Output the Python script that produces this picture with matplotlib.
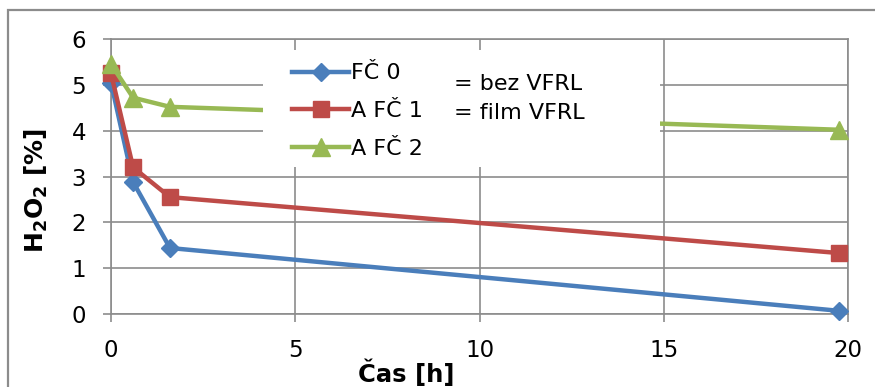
import numpy as np
import matplotlib
matplotlib.use("Agg")
import matplotlib.pyplot as plt
from matplotlib.patches import Rectangle

# values
time_h = [0, 0.6, 1.6, 19.75]
fc0 = [5.05, 2.88, 1.44, 0.07]
afc1 = [5.25, 3.2, 2.55, 1.33]
afc2 = [5.45, 4.72, 4.52, 4.02]

labels = ["FČ 0", "A FČ 1", "A FČ 2"]
colors = ["#4A7EBB", "#BE4B48", "#98B954"]
markers = ["D", "s", "^"]
msizes = [9.5, 12, 13]
notes = ["= bez VFRL", "= film VFRL"]

grid_col = "#8C8C8C"

plt.rcParams["font.family"] = ["DejaVu Sans"]
plt.rcParams["mathtext.fontset"] = "dejavusans"

fig = plt.figure(figsize=(8.75, 3.87), dpi=100)
ax = fig.add_axes([111 / 875, 1 - 314 / 387, 737 / 875, 275 / 387])

# outer chart-area border (runs off the right and bottom edges)
fig.patches.append(Rectangle((8 / 875, -0.1), 1.2, 1 - 10 / 387 + 0.1,
                             transform=fig.transFigure, fill=False,
                             edgecolor=grid_col, linewidth=1.6))

for ys, lab, c, m, ms in zip([fc0, afc1, afc2], labels, colors, markers, msizes):
    ax.plot(time_h, ys, color=c, lw=3.2, marker=m, ms=ms, label=lab,
            zorder=3, clip_on=False)

ax.set_xlim(0, 20)
ax.set_ylim(0, 6)
ax.set_xticks(np.arange(0, 21, 5))
ax.set_yticks(np.arange(0, 7, 1))
ax.grid(True, color=grid_col, lw=1.2)
ax.set_axisbelow(True)
for sp in ax.spines.values():
    sp.set_color(grid_col)
    sp.set_linewidth(1.2)
ax.tick_params(direction="out", length=6, width=1.2, color=grid_col,
               labelsize=16.5, pad=12)

ax.set_xlabel("Čas [h]", fontsize=17.5, fontweight="bold")
ax.xaxis.set_label_coords(0.40, -0.165)
ax.set_ylabel(r"$\mathbf{H_2O_2}$ [%]", fontsize=18, fontweight="bold")
ax.yaxis.set_label_coords(-0.083, 0.45)

# white legend area covering the gridlines and lines
ax.add_patch(Rectangle((0.206, 0.535), 0.539, 0.425, transform=ax.transAxes,
                       facecolor="white", edgecolor="none", zorder=4))
leg = ax.legend(loc="upper left", bbox_to_anchor=(0.225, 0.968), frameon=False,
                fontsize=16, handlelength=2.55, handletextpad=0.1,
                labelspacing=0.8, borderpad=0.2)
leg.set_zorder(5)

ax.text(0.465, 0.835, notes[0], transform=ax.transAxes, fontsize=16,
        va="center", ha="left", zorder=6)
ax.text(0.465, 0.73, notes[1], transform=ax.transAxes, fontsize=16,
        va="center", ha="left", zorder=6)

fig.savefig("out.png", dpi=100)
